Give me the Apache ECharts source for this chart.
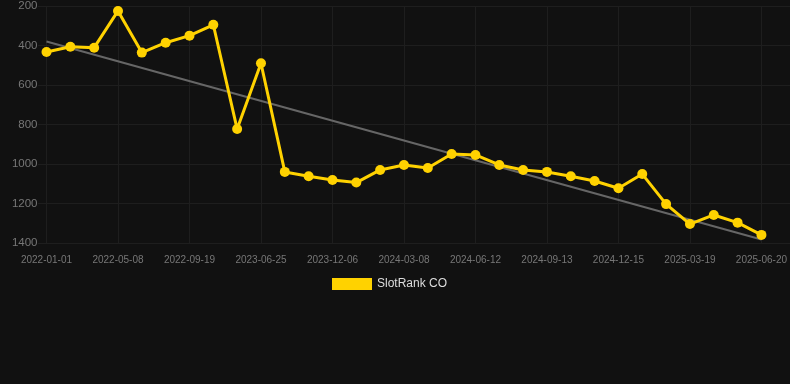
<!DOCTYPE html>
<html>
<head>
<meta charset="utf-8">
<script src="https://cdn.jsdelivr.net/npm/echarts@6/dist/echarts.min.js"></script>
<style>
html,body{margin:0;padding:0;background:#111111;}
#chart{width:790px;height:384px;}
</style>
</head>
<body>
<div id="chart"></div>
<script>
var categories = [
  '2022-01-01','2022-02-12','2022-03-26','2022-05-08','2022-06-19','2022-08-01',
  '2022-09-19','2022-12-10','2023-03-18','2023-06-25','2023-08-20','2023-10-14',
  '2023-12-06','2024-01-09','2024-02-05','2024-03-08','2024-04-10','2024-05-11',
  '2024-06-12','2024-07-13','2024-08-12','2024-09-13','2024-10-15','2024-11-14',
  '2024-12-15','2025-01-16','2025-02-16','2025-03-19','2025-04-20','2025-05-20',
  '2025-06-20'
];
var rankValues = [
  433, 406, 411, 225, 436, 386, 350, 295, 823, 490, 1040, 1062,
  1081, 1094, 1030, 1005, 1020, 949, 954, 1005, 1030, 1040, 1062, 1086,
  1123, 1051, 1203, 1304, 1258, 1297, 1359
];
var trendEnds = [380, 1382];
var yTicks = [200, 400, 600, 800, 1000, 1200, 1400];
var seriesName = 'SlotRank CO';

var trendData = [[0, trendEnds[0]], [categories.length - 1, trendEnds[1]]];
var font = 'Liberation Sans, Arial, sans-serif';
var gridColor = '#1e1e1e';

var chart = echarts.init(document.getElementById('chart'), null, {renderer: 'canvas'});
chart.setOption({
  backgroundColor: '#111111',
  animation: false,
  textStyle: {fontFamily: font},
  grid: [
    {left: 46.5, right: 28.5, top: 6, bottom: 141},
    {left: 38, right: 0, top: 6, bottom: 141}
  ],
  legend: {
    data: [seriesName],
    top: 278,
    left: 332,
    padding: 0,
    itemWidth: 40,
    itemHeight: 12,
    itemGap: 10,
    icon: 'rect',
    textStyle: {color: '#dddddd', fontSize: 12, fontFamily: font}
  },
  xAxis: [{
    type: 'category',
    gridIndex: 0,
    data: categories,
    boundaryGap: false,
    axisLine: {show: false},
    axisTick: {show: false},
    axisLabel: {interval: 2, color: '#777777', fontSize: 10, margin: 12, fontFamily: font},
    splitLine: {show: true, interval: 2, lineStyle: {color: gridColor, width: 1}}
  }, {
    type: 'value',
    gridIndex: 1,
    show: false,
    min: 0, max: 1
  }],
  yAxis: [{
    type: 'value',
    gridIndex: 0,
    inverse: true,
    min: yTicks[0],
    max: yTicks[yTicks.length - 1],
    interval: 200,
    axisLine: {show: false},
    axisTick: {show: false},
    axisLabel: {color: '#777777', fontSize: 11.5, margin: 9, fontFamily: font,
      formatter: function (v) { return String(v); }},
    splitLine: {show: false}
  }, {
    type: 'value',
    gridIndex: 1,
    inverse: true,
    min: yTicks[0],
    max: yTicks[yTicks.length - 1],
    interval: 200,
    axisLine: {show: false},
    axisTick: {show: false},
    axisLabel: {show: false},
    splitLine: {show: true, lineStyle: {color: gridColor, width: 1}}
  }],
  series: [{
    name: 'trend',
    type: 'line',
    xAxisIndex: 0,
    yAxisIndex: 0,
    data: trendData,
    symbol: 'none',
    lineStyle: {color: '#666666', width: 2},
    silent: true,
    z: 2
  }, {
    name: seriesName,
    type: 'line',
    xAxisIndex: 0,
    yAxisIndex: 0,
    data: rankValues,
    symbol: 'circle',
    symbolSize: 10,
    itemStyle: {color: '#FFD200'},
    lineStyle: {color: '#FFD200', width: 3},
    z: 3
  }]
});
</script>
</body>
</html>
